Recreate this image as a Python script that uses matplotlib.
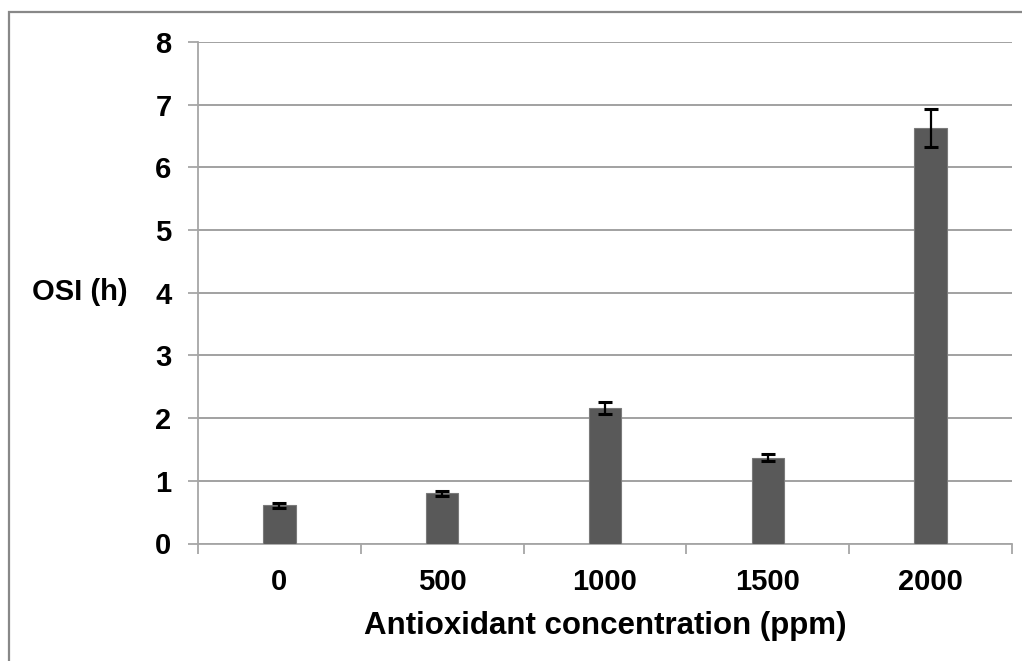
import matplotlib
matplotlib.use("Agg")
import matplotlib.pyplot as plt
from matplotlib.patches import Rectangle

# data
concentrations = ["0", "500", "1000", "1500", "2000"]
osi_hours = [0.61, 0.80, 2.16, 1.37, 6.63]
osi_err = [0.04, 0.04, 0.10, 0.06, 0.30]
y_ticks = [0, 1, 2, 3, 4, 5, 6, 7, 8]

plt.rcParams['font.family'] = ['Liberation Sans', 'DejaVu Sans']

W, H = 1022, 661
fig = plt.figure(figsize=(W / 100, H / 100), dpi=100)
ax = fig.add_axes([198 / W, 1 - 543.5 / H, (1012 - 198) / W, (543.5 - 42) / H])

x = list(range(len(concentrations)))
ax.bar(x, osi_hours, width=0.2, color="#595959", edgecolor="#7a7a7a", linewidth=0.8, zorder=3)
ax.errorbar(x, osi_hours, yerr=osi_err, fmt="none", ecolor="black", elinewidth=1.6,
            capsize=5, capthick=2.2, zorder=4)

ax.set_xlim(-0.5, len(concentrations) - 0.5)
ax.set_ylim(0, 8)
ax.set_yticks(y_ticks)
ax.set_yticklabels([str(v) for v in y_ticks], fontsize=21, fontweight="bold")
ax.set_xticks(x)
ax.set_xticklabels(concentrations, fontsize=21, fontweight="bold")
ax.set_xticks([i - 0.5 for i in range(len(concentrations) + 1)], minor=True)

ax.yaxis.grid(True, color="#9a9a9a", linewidth=1.3, zorder=0)
ax.set_axisbelow(True)

for side in ["top", "right"]:
    ax.spines[side].set_visible(False)
for side in ["left", "bottom"]:
    ax.spines[side].set_color("#a6a6a6")
    ax.spines[side].set_linewidth(1.3)

ax.tick_params(axis="y", which="major", length=7, width=1.3, color="#a6a6a6", pad=12)
ax.tick_params(axis="x", which="major", length=0, pad=18)
ax.tick_params(axis="x", which="minor", length=7, width=1.3, color="#a6a6a6")

fig.text(80 / W, 1 - 292 / H, "OSI (h)", fontsize=21, fontweight="bold", ha="center", va="center")
fig.text(605 / W, 1 - 626 / H, "Antioxidant concentration (ppm)", fontsize=22.5, fontweight="bold",
         ha="center", va="center")

# outer chart frame (only left and top edges visible)
fig.patches.append(Rectangle((9 / W, -0.1), 1.2, 1 - 12 / H + 0.1, transform=fig.transFigure,
                             fill=False, edgecolor="#888888", linewidth=1.6))

fig.savefig("out.png", dpi=100)
